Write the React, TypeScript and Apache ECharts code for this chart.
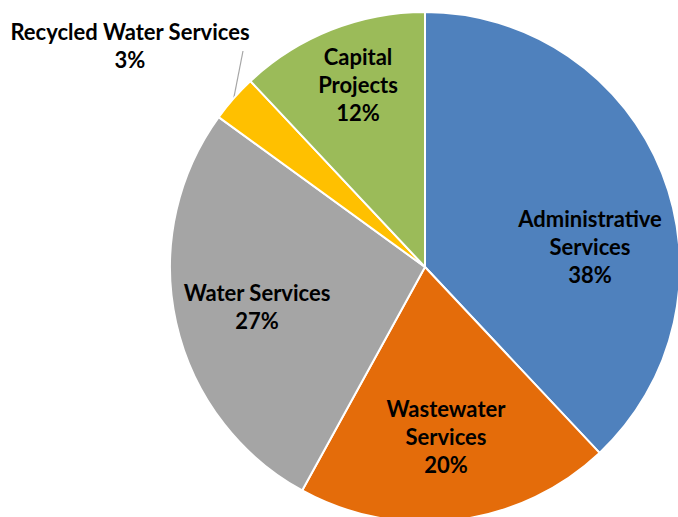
import React, { useEffect, useRef } from "react";
import * as echarts from "echarts";

const categories = [
  "Administrative\nServices",
  "Wastewater\nServices",
  "Water Services",
  "Recycled Water Services",
  "Capital\nProjects",
];
const values = [38, 20, 27, 3, 12];
const colors = ["#4F81BD", "#E46C0A", "#A5A5A5", "#FFC000", "#9BBB59"];

// label placement (layout only)
const labelSpots: [number, number][] = [
  [590, 246],
  [446, 436],
  [257, 306],
  [130, 45],
  [358, 84],
];
const leaderEnd: [number, number] = [243, 51];

export default function App() {
  const ref = useRef<HTMLDivElement>(null);
  useEffect(() => {
    if (!ref.current) return;
    const chart = echarts.init(ref.current, undefined, { renderer: "svg" });
    const data = categories.map((name, i) => {
      const outside = i === 3;
      return {
        name,
        value: values[i],
        itemStyle: { color: colors[i] },
        label: { position: outside ? "outside" : "inside" },
        labelLine: { show: outside },
      };
    });
    chart.setOption({
      animation: false,
      backgroundColor: "#ffffff",
      series: [
        {
          type: "pie",
          center: [425, 267],
          radius: 255,
          startAngle: 90,
          clockwise: true,
          avoidLabelOverlap: false,
          data,
          itemStyle: { borderColor: "#ffffff", borderWidth: 2 },
          label: {
            show: true,
            formatter: (p: any) => `${p.name}\n${p.value}%`,
            fontFamily: "Lato",
            fontWeight: 700,
            fontSize: 22,
            lineHeight: 28,
            color: "#000000",
            align: "center",
          },
          labelLine: {
            lineStyle: { color: "#A6A6A6", width: 1.2 },
            smooth: false,
          },
          emphasis: { disabled: true },
          labelLayout: (p: any) => {
            const s = labelSpots[p.dataIndex];
            const res: any = { x: s[0], y: s[1], align: "center", verticalAlign: "middle" };
            if (p.dataIndex === 3 && p.labelLinePoints) {
              const start = p.labelLinePoints[0];
              res.labelLinePoints = [start, leaderEnd, leaderEnd];
            }
            return res;
          },
        },
      ],
    });
    return () => chart.dispose();
  }, []);
  return (
    <div
      ref={ref}
      style={{ position: "fixed", left: 0, top: 0, width: 678, height: 517 }}
    />
  );
}
